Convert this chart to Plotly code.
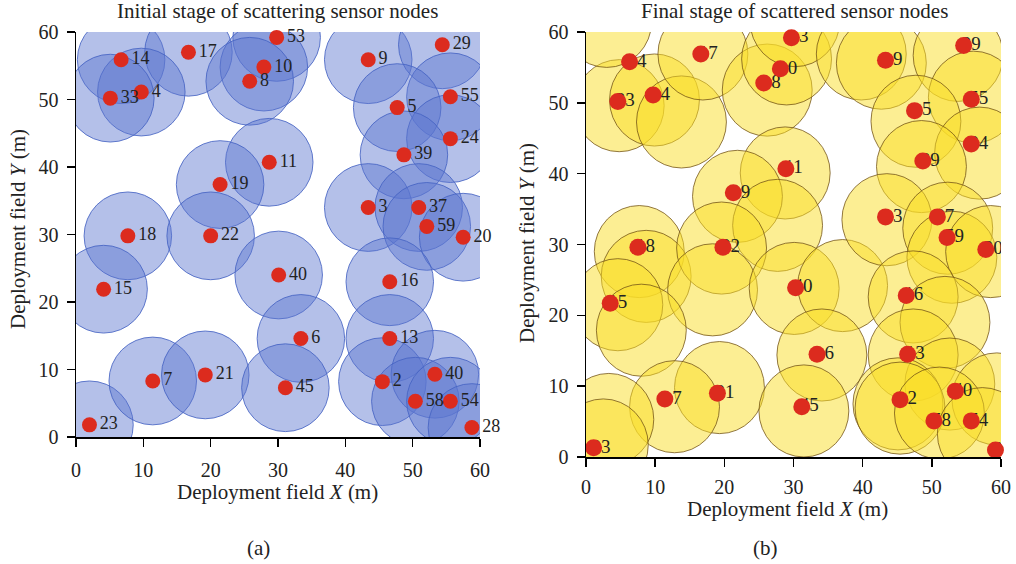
import plotly.graph_objects as go

# ---------------- data ----------------
node_labels = ["23", "14", "17", "53", "10", "8", "4", "33", "9", "29", "55", "5",
               "24", "39", "11", "19", "3", "37", "59", "20", "18", "22", "40", "15",
               "16", "6", "13", "7", "21", "45", "2", "40", "58", "54", "28"]

# (a) initial stage: node positions (sensing circles centred on nodes)
init_x = [2.0, 6.7, 16.7, 29.8, 27.9, 25.8, 9.7, 5.1, 43.4, 54.4, 55.6, 47.7,
          55.6, 48.7, 28.7, 21.4, 43.4, 50.9, 52.1, 57.5, 7.7, 20.0, 30.1, 4.1,
          46.6, 33.4, 46.6, 11.4, 19.2, 31.1, 45.5, 53.3, 50.4, 55.6, 58.8]
init_y = [1.8, 55.9, 57.0, 59.2, 54.8, 52.7, 51.1, 50.2, 55.9, 58.1, 50.4, 48.8,
          44.2, 41.8, 40.7, 37.4, 34.0, 34.0, 31.2, 29.6, 29.8, 29.8, 24.0, 21.9,
          23.0, 14.6, 14.6, 8.3, 9.2, 7.3, 8.2, 9.3, 5.3, 5.3, 1.4]

# (b) final stage: node positions
final_x = [1.1, 6.3, 16.6, 29.7, 28.1, 25.7, 9.7, 4.6, 43.3, 54.6, 55.7, 47.5,
           55.7, 48.7, 28.9, 21.3, 43.3, 50.8, 52.2, 57.8, 7.5, 19.8, 30.3, 3.5,
           46.3, 33.4, 46.5, 11.4, 19.0, 31.2, 45.4, 53.4, 50.3, 55.7, 59.2]
final_y = [1.3, 55.8, 56.9, 59.2, 54.8, 52.8, 51.1, 50.2, 56.0, 58.1, 50.5, 48.9,
           44.2, 41.8, 40.7, 37.3, 33.9, 33.9, 31.0, 29.3, 29.6, 29.6, 23.9, 21.7,
           22.8, 14.5, 14.5, 8.2, 9.0, 7.1, 8.1, 9.3, 5.1, 5.1, 1.0]

# (b) final stage: sensing-circle centres
circle_x = [4.8, 9.9, 13.8, 16.9, 26.2, 29.0, 30.2, 39.8, 42.7, 53.8, 56.0, 47.7,
            56.9, 48.5, 28.8, 21.9, 27.7, 7.7, 8.7, 19.6, 18.3, 4.6, 8.0, 30.1,
            37.1, 34.1, 43.5, 52.3, 52.9, 58.5, 47.3, 51.9, 19.3, 12.8, 3.3, 2.5,
            31.5, 47.3, 52.6, 59.4, 45.1, 45.4, 51.1, 57.3, 3.0]
circle_y = [49.6, 50.4, 47.3, 56.9, 51.8, 56.2, 61.6, 56.9, 55.6, 56.7, 50.8, 47.4,
            42.9, 41.0, 40.1, 36.8, 32.7, 29.0, 25.5, 29.5, 23.6, 21.5, 17.9, 23.8,
            24.2, 14.4, 33.5, 32.3, 28.2, 29.0, 22.6, 19.0, 9.8, 7.1, 5.3, 1.7,
            6.5, 14.4, 10.3, 8.2, 7.5, 6.9, 6.2, 3.3, 61.5]

sensing_radius = 6.5

x_ticks = [0, 10, 20, 30, 40, 50, 60]
y_ticks = [0, 10, 20, 30, 40, 50, 60]

# ---------------- figure ----------------
FONT = "Liberation Serif"
RED = "#dc2b1e"
W, H = 1016, 564

def px_x(p):
    return p / W

def px_y(p):
    return (H - p) / H

RIGHT_L, RIGHT_R = 586, 1001
# labels in (b) end ~17 px right of the node centre (first digit hidden by the node)
label_shift = 17 * 60 / (RIGHT_R - RIGHT_L)

fig = go.Figure()

shapes = []
for cx, cy in zip(init_x, init_y):
    shapes.append(dict(type="circle", xref="x", yref="y",
                       x0=cx - sensing_radius, x1=cx + sensing_radius,
                       y0=cy - sensing_radius, y1=cy + sensing_radius,
                       fillcolor="rgba(92,118,206,0.46)",
                       line=dict(color="rgba(70,100,195,0.85)", width=1),
                       layer="below"))
for cx, cy in zip(circle_x, circle_y):
    shapes.append(dict(type="circle", xref="x2", yref="y2",
                       x0=cx - sensing_radius, x1=cx + sensing_radius,
                       y0=cy - sensing_radius, y1=cy + sensing_radius,
                       fillcolor="rgba(250,221,40,0.5)",
                       line=dict(color="rgba(110,78,20,0.75)", width=1),
                       layer="below"))

# (a) nodes with labels
fig.add_trace(go.Scatter(
    x=init_x, y=init_y, mode="markers+text", text=node_labels,
    textposition="middle right",
    textfont=dict(family=FONT, size=18, color="#222222"),
    marker=dict(size=15, color=RED, line=dict(width=0)),
    xaxis="x", yaxis="y", showlegend=False, cliponaxis=False, hoverinfo="skip"))

# (b) labels (drawn underneath the nodes)
fig.add_trace(go.Scatter(
    x=final_x, y=final_y, mode="text", text=node_labels,
    textposition="middle left",
    textfont=dict(family=FONT, size=19, color="#222222"),
    xaxis="x3", yaxis="y2", showlegend=False, cliponaxis=True, hoverinfo="skip"))
# (b) nodes on top
fig.add_trace(go.Scatter(
    x=final_x, y=final_y, mode="markers",
    marker=dict(size=17, color=RED, line=dict(width=0)),
    xaxis="x4", yaxis="y2", showlegend=False, cliponaxis=False, hoverinfo="skip"))

axis_common = dict(range=[0, 60], showline=True, linecolor="black", linewidth=1.5,
                   ticks="outside", ticklen=8, tickwidth=1.5, tickcolor="black",
                   showgrid=False, zeroline=False, fixedrange=True, automargin=False,
                   tickfont=dict(family=FONT, size=20, color="#222222"))

fig.update_layout(
    width=W, height=H,
    margin=dict(l=0, r=0, t=0, b=0, autoexpand=False),
    paper_bgcolor="white", plot_bgcolor="rgba(0,0,0,0)",
    shapes=shapes,
    xaxis=dict(domain=[px_x(76), px_x(480)], anchor="y", tickvals=x_ticks,
               ticklabelstandoff=6, **axis_common),
    yaxis=dict(domain=[px_y(437), px_y(32)], anchor="x", tickvals=y_ticks,
               ticklabelstandoff=4, **axis_common),
    xaxis2=dict(domain=[px_x(RIGHT_L), px_x(RIGHT_R)], anchor="y2", tickvals=x_ticks,
                ticklabelstandoff=3, **axis_common),
    yaxis2=dict(domain=[px_y(457), px_y(32)], anchor="x2", tickvals=y_ticks,
                ticklabelstandoff=4, **axis_common),
    xaxis3=dict(overlaying="x2", anchor="y2", visible=False, fixedrange=True,
                range=[-label_shift, 60 - label_shift]),
    xaxis4=dict(overlaying="x2", anchor="y2", visible=False, fixedrange=True,
                range=[0, 60]),
)

ann_font = dict(family=FONT, size=21, color="#222222")
annotations = [
    dict(text="Initial stage of scattering sensor nodes", x=px_x(277.5), y=px_y(11)),
    dict(text="Final stage of scattered sensor nodes", x=px_x(794), y=px_y(11)),
    dict(text="Deployment field <i>X</i> (m)", x=px_x(277), y=px_y(492)),
    dict(text="Deployment field <i>X</i> (m)", x=px_x(787), y=px_y(509)),
    dict(text="(a)", x=px_x(258), y=px_y(548)),
    dict(text="(b)", x=px_x(765), y=px_y(548)),
    dict(text="Deployment field <i>Y</i> (m)", x=px_x(18), y=px_y(229), textangle=-90),
    dict(text="Deployment field <i>Y</i> (m)", x=px_x(527), y=px_y(243), textangle=-90),
]
for a in annotations:
    a.update(xref="paper", yref="paper", showarrow=False, font=ann_font,
             xanchor="center", yanchor="middle")
fig.update_layout(annotations=annotations)

fig.write_html("out.html", config={"displayModeBar": False, "staticPlot": True},
               post_script="document.body.style.margin='0px';document.body.style.overflow='hidden';")
